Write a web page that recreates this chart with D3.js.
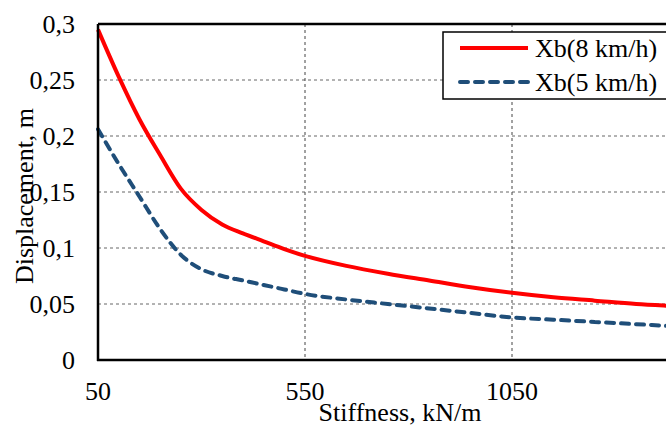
<!DOCTYPE html>
<html><head><meta charset="utf-8">
<script src="https://cdn.jsdelivr.net/npm/d3@7"></script>
<style>body{margin:0;background:#fff;} svg{display:block;} text{font-family:"Liberation Serif","Times New Roman",serif;fill:#000;}</style>
</head><body>
<svg id="c" width="666" height="428"></svg>
<script>
const stiffness = [50,100,150,200,250,300,350,400,450,500,550,650,750,850,950,1050,1150,1250,1350,1450,1550];
const xb8 = [0.295,0.253,0.215,0.183,0.153,0.134,0.121,0.113,0.106,0.099,0.093,0.084,0.077,0.071,0.065,0.060,0.056,0.053,0.050,0.048,0.046];
const xb5 = [0.206,0.175,0.146,0.117,0.094,0.081,0.075,0.071,0.067,0.063,0.059,0.054,0.050,0.046,0.042,0.038,0.036,0.034,0.032,0.030,0.029];
const xTicks = [50,550,1050];
const yTicks = [0,0.05,0.1,0.15,0.2,0.25,0.3];
const seriesNames = ["Xb(8 km/h)","Xb(5 km/h)"];

const svg = d3.select("#c");
const x = d3.scaleLinear().domain([50,1550]).range([98,719]);
const y = d3.scaleLinear().domain([0,0.3]).range([360,24]);
const fmt = v => String(+v.toFixed(2)).replace(".", ",");

// grid
svg.append("g").selectAll("line").data(yTicks.filter(t=>t>0&&t<0.3)).join("line")
  .attr("x1",98).attr("x2",719).attr("y1",d=>y(d)).attr("y2",d=>y(d))
  .attr("stroke","#666").attr("stroke-width",1).attr("stroke-dasharray","3,3");
svg.append("g").selectAll("line").data(xTicks.filter(t=>t>50)).join("line")
  .attr("x1",d=>x(d)).attr("x2",d=>x(d)).attr("y1",24).attr("y2",360)
  .attr("stroke","#444").attr("stroke-width",1).attr("stroke-dasharray","3,3");

// frame
svg.append("line").attr("x1",98).attr("x2",719).attr("y1",24).attr("y2",24).attr("stroke","#000").attr("stroke-width",2.5);

// lines
const line = d3.line().x((d,i)=>x(stiffness[i])).y(d=>y(d)).curve(d3.curveMonotoneX);
svg.append("path").datum(xb5).attr("d",line).attr("fill","none").attr("stroke","#1f4e79")
  .attr("stroke-width",4).attr("stroke-dasharray","8,7").attr("stroke-linecap","round");
svg.append("path").datum(xb8).attr("d",line).attr("fill","none").attr("stroke","#ff0000")
  .attr("stroke-width",4);

// axes
svg.append("line").attr("x1",98).attr("x2",98).attr("y1",24).attr("y2",361).attr("stroke","#000").attr("stroke-width",2.5);
svg.append("line").attr("x1",97).attr("x2",719).attr("y1",360).attr("y2",360).attr("stroke","#000").attr("stroke-width",2.5);

svg.append("g").selectAll("text").data(yTicks).join("text")
  .attr("x",75).attr("y",d=>y(d)+9).attr("text-anchor","end").attr("font-size",26).text(fmt);
svg.append("g").selectAll("text").data(xTicks).join("text")
  .attr("x",d=>x(d)).attr("y",400).attr("text-anchor","middle").attr("font-size",26).text(d=>d);

svg.append("text").attr("x",400).attr("y",421).attr("text-anchor","middle").attr("font-size",26).text("Stiffness, kN/m");
svg.append("text").attr("transform","translate(33,196) rotate(-90)").attr("text-anchor","middle").attr("font-size",26).text("Displacement, m");

// legend
const lg = svg.append("g");
lg.append("rect").attr("x",443).attr("y",32).attr("width",240).attr("height",67).attr("fill","#fff").attr("stroke","#000").attr("stroke-width",1.5);
const items = [{name:seriesNames[0],color:"#ff0000",dash:null},{name:seriesNames[1],color:"#1f4e79",dash:"8,7"}];
items.forEach((it,i)=>{
  const yy = 48 + i*34;
  lg.append("line").attr("x1",460).attr("x2",528).attr("y1",yy).attr("y2",yy).attr("stroke",it.color).attr("stroke-width",4)
    .attr("stroke-dasharray",it.dash).attr("stroke-linecap",it.dash?"round":"butt");
  lg.append("text").attr("x",535).attr("y",yy+9).attr("font-size",26).text(it.name);
});
</script>
</body></html>
